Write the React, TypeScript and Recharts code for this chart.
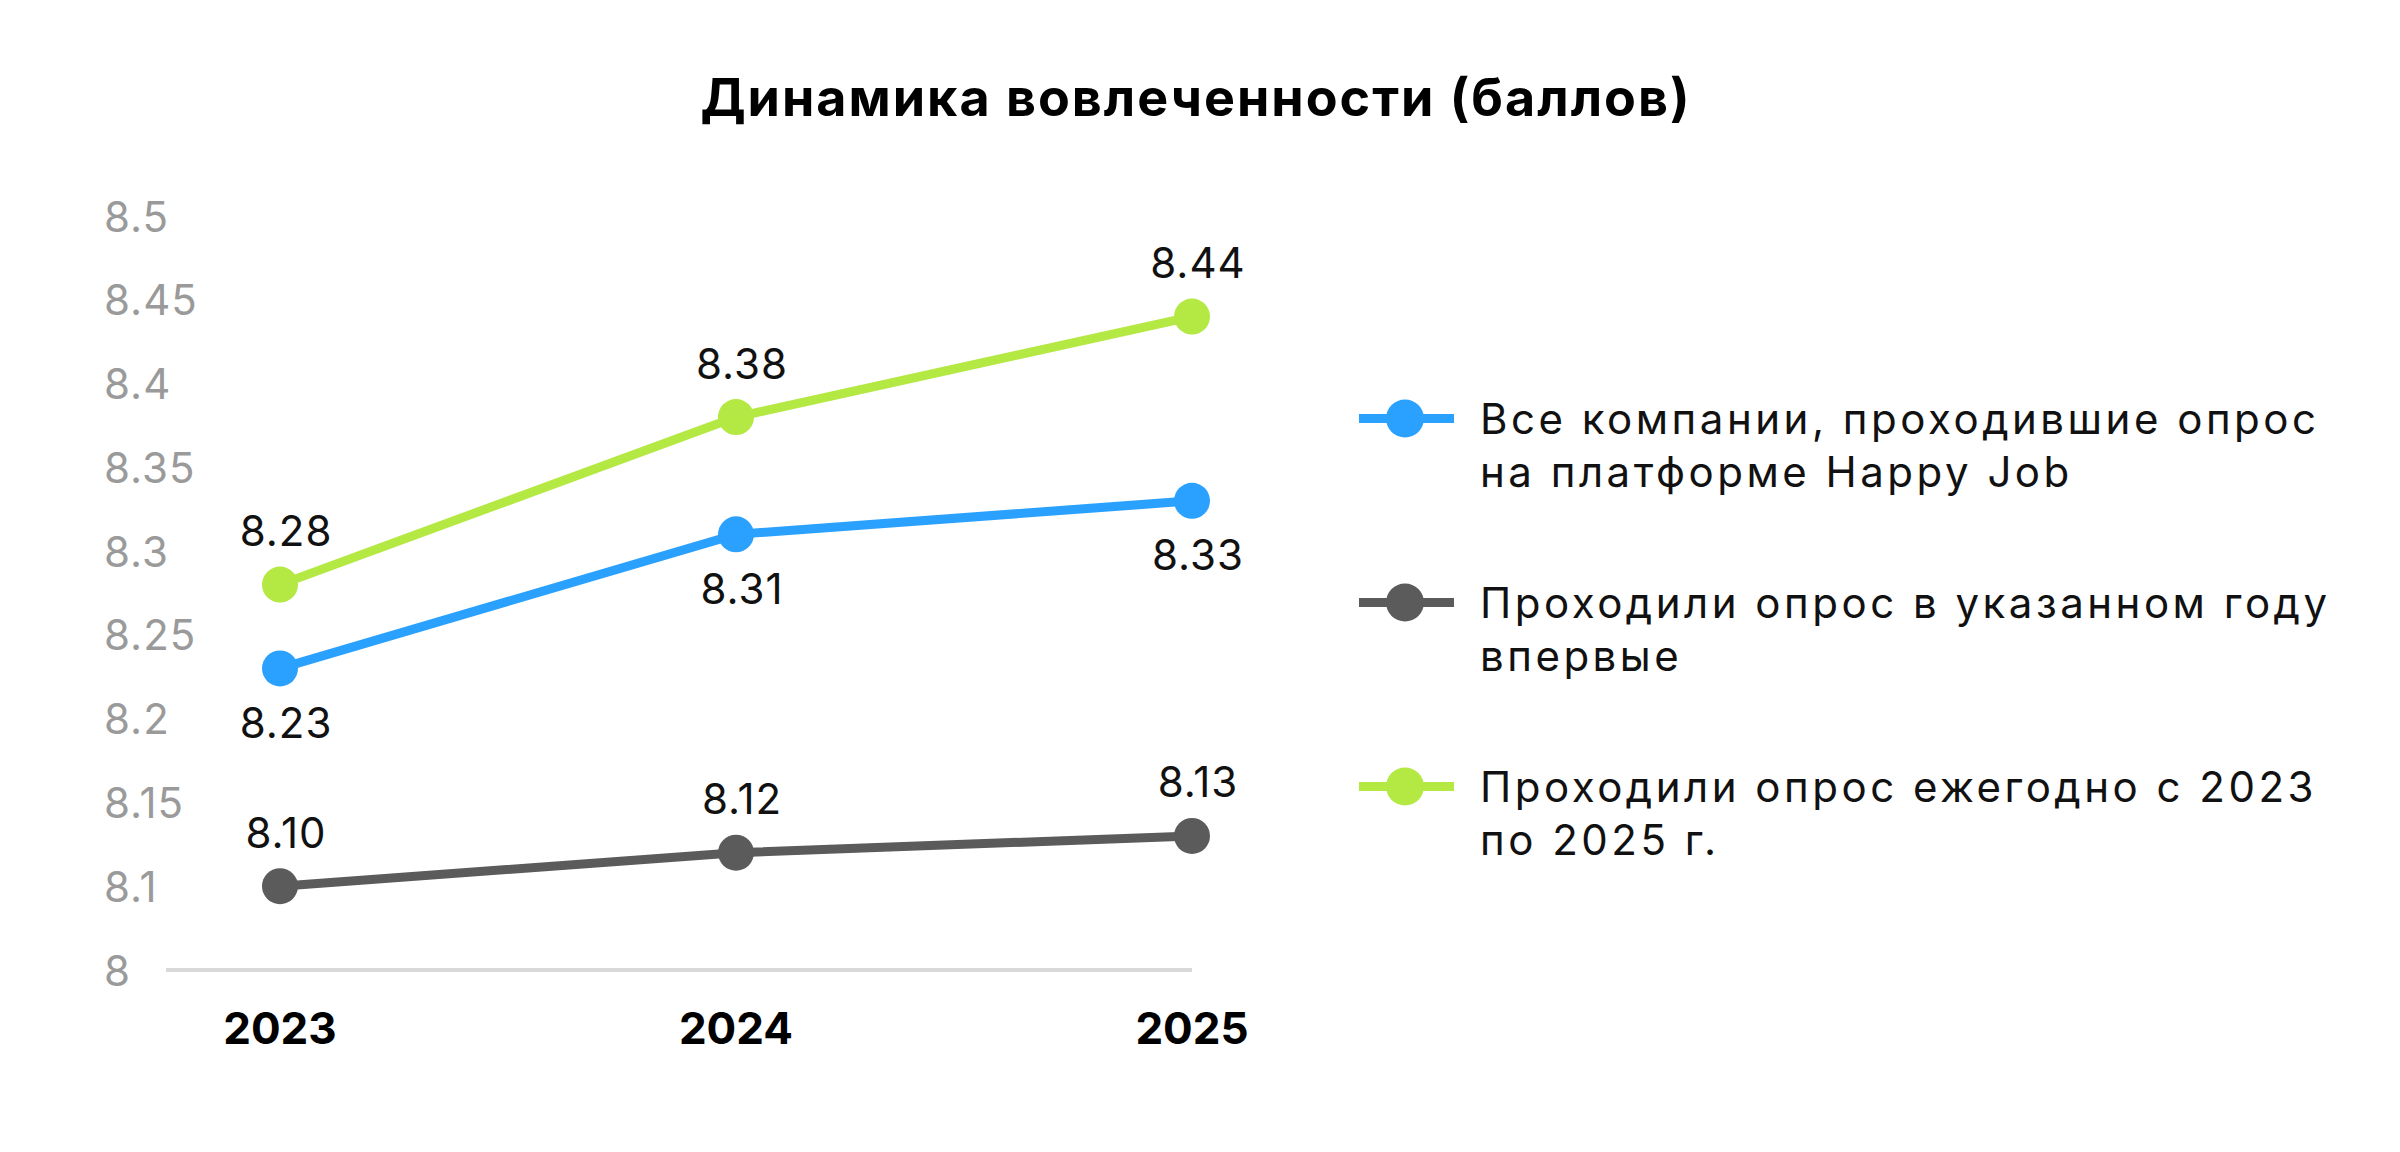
import React from 'react';
import { LineChart, Line, XAxis, YAxis, Legend } from 'recharts';

const years = ['2023', '2024', '2025'];
const allCompanies = [8.23, 8.31, 8.33];
const firstTime = [8.1, 8.12, 8.13];
const annual = [8.28, 8.38, 8.44];

const yTicks = [8.05, 8.1, 8.15, 8.2, 8.25, 8.3, 8.35, 8.4, 8.45, 8.5];
const yTickLabels = ['8', '8.1', '8.15', '8.2', '8.25', '8.3', '8.35', '8.4', '8.45', '8.5'];

const seriesNames = [
  'Все компании, проходившие опрос\nна платформе Happy Job',
  'Проходили опрос в указанном году\nвпервые',
  'Проходили опрос ежегодно с 2023\nпо 2025 г.',
];
const seriesColors = ['#2ba1ff', '#5b5b5b', '#b4e843'];

const title = 'Динамика вовлеченности (баллов)';

const chartData = years.map((year, i) => ({
  year,
  all: allCompanies[i],
  first: firstTime[i],
  annual: annual[i],
}));

const FONT = 'Inter, "Noto Sans", sans-serif';

const makeLabel = (below: boolean) => (props: any) => {
  const { x, y, value } = props;
  if (x == null || y == null) return null;
  return (
    <text
      x={x + 6}
      y={below ? y + 54 : y - 54}
      textAnchor="middle"
      dominantBaseline="central"
      fill="#111"
      fontSize={42}
      letterSpacing={1}
      fontFamily={FONT}
    >
      {Number(value).toFixed(2)}
    </text>
  );
};

const YTick = (props: any) => {
  const { y, payload } = props;
  const idx = yTicks.findIndex((t) => Math.abs(t - payload.value) < 1e-9);
  return (
    <text
      x={104}
      y={y}
      dominantBaseline="central"
      fill="#9a9a9a"
      fontSize={42}
      letterSpacing={1}
      fontFamily={FONT}
    >
      {idx >= 0 ? yTickLabels[idx] : payload.value}
    </text>
  );
};

const XTick = (props: any) => {
  const { x, y, payload } = props;
  return (
    <text
      x={x}
      y={y + 50}
      textAnchor="middle"
      dominantBaseline="central"
      fill="#000"
      fontSize={44}
      fontWeight={700}
      fontFamily={FONT}
    >
      {payload.value}
    </text>
  );
};

const LegendContent = (props: any) => {
  const { payload } = props;
  return (
    <div style={{ position: 'absolute', left: 1359, top: 392, width: 1040 }}>
      {(payload || []).map((entry: any, i: number) => (
        <div key={i} style={{ display: 'flex', alignItems: 'flex-start', height: 184 }}>
          <svg width={95} height={53} style={{ flex: '0 0 auto' }}>
            <line x1={0} x2={95} y1={26.5} y2={26.5} stroke={entry.color} strokeWidth={9} />
            <circle cx={46} cy={26.5} r={19} fill={entry.color} />
          </svg>
          <div
            style={{
              marginLeft: 26,
              fontFamily: FONT,
              fontSize: 42,
              lineHeight: '53px',
              letterSpacing: 3.5,
              color: '#111',
              whiteSpace: 'pre',
            }}
          >
            {entry.value}
          </div>
        </div>
      ))}
    </div>
  );
};

export default function App() {
  return (
    <div style={{ position: 'absolute', left: 0, top: 0, width: 2400, height: 1152, background: '#fff' }}>
      <div
        style={{
          position: 'absolute',
          left: 0,
          top: 67,
          width: 2392,
          textAlign: 'center',
          fontFamily: FONT,
          fontWeight: 700,
          fontSize: 52,
          letterSpacing: 2,
          lineHeight: '62px',
          color: '#000',
        }}
      >
        {title}
      </div>
      <LineChart
        width={2400}
        height={1152}
        data={chartData}
        margin={{ top: 216, right: 1208, bottom: 0, left: 0 }}
      >
        <XAxis
          dataKey="year"
          padding={{ left: 114, right: 0 }}
          axisLine={{ stroke: '#d9d9d9', strokeWidth: 4 }}
          tickLine={false}
          height={182}
          tick={<XTick />}
          interval={0}
        />
        <YAxis
          type="number"
          domain={[8.05, 8.5]}
          ticks={yTicks}
          width={166}
          axisLine={false}
          tickLine={false}
          tick={<YTick />}
          interval={0}
          allowDataOverflow
        />
        <Legend
          content={<LegendContent />}
          wrapperStyle={{ left: 0, top: 0, width: 0, height: 0 }}
          layout="horizontal"
          verticalAlign="top"
          align="left"
        />
        <Line
          dataKey="all"
          name={seriesNames[0]}
          stroke={seriesColors[0]}
          strokeWidth={9}
          dot={{ r: 18, fill: seriesColors[0], stroke: 'none' }}
          activeDot={false}
          label={makeLabel(true)}
          isAnimationActive={false}
        />
        <Line
          dataKey="first"
          name={seriesNames[1]}
          stroke={seriesColors[1]}
          strokeWidth={9}
          dot={{ r: 18, fill: seriesColors[1], stroke: 'none' }}
          activeDot={false}
          label={makeLabel(false)}
          isAnimationActive={false}
        />
        <Line
          dataKey="annual"
          name={seriesNames[2]}
          stroke={seriesColors[2]}
          strokeWidth={9}
          dot={{ r: 18, fill: seriesColors[2], stroke: 'none' }}
          activeDot={false}
          label={makeLabel(false)}
          isAnimationActive={false}
        />
      </LineChart>
    </div>
  );
}
